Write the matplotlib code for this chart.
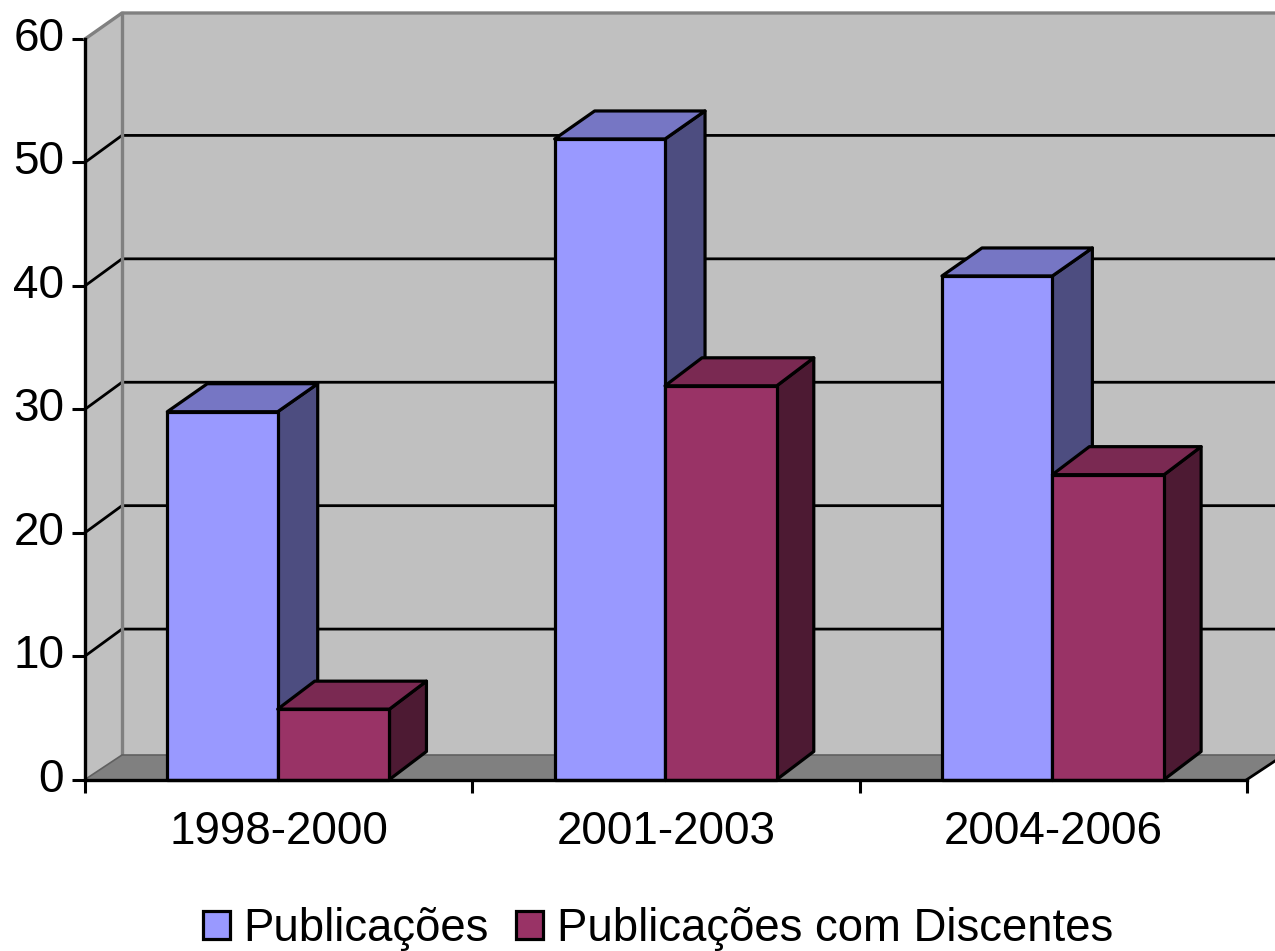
import matplotlib
matplotlib.use('Agg')
import matplotlib.pyplot as plt
from matplotlib.patches import Polygon, Patch

plt.rcParams['font.family'] = ['Liberation Sans', 'DejaVu Sans']

categories = ['1998-2000', '2001-2003', '2004-2006']
series_names = ['Publicações', 'Publicações com Discentes']
publicacoes = [29.8, 51.9, 40.8]
discentes = [5.7, 31.9, 24.7]
yticks = [0, 10, 20, 30, 40, 50, 60]

W, H = 1275, 951
X0, X1, Y0, Y1 = 85, 1247, 779.5, 39

fig = plt.figure(figsize=(W / 100, H / 100), dpi=100)
ax = fig.add_axes([X0 / W, 1 - Y0 / H, (X1 - X0) / W, (Y0 - Y1) / H])
ax.set_xlim(0, 3)
ax.set_ylim(0, 60)
ax.patch.set_visible(False)

# depth of the fake 3d, pixels to data units
px_x = 3 / (X1 - X0)
px_y = 60 / (Y0 - Y1)
wall_dx = 37 * px_x
floor_dy, grid_dy, top_dy = 24.5 * px_y, 27 * px_y, 26 * px_y
bar_dy = 28 * px_y
bar_start = 0.2125


def poly(pts, fc, ec='none', lw=0, z=1):
    ax.add_patch(Polygon(pts, closed=True, facecolor=fc, edgecolor=ec, linewidth=lw,
                         joinstyle='round', clip_on=False, zorder=z))


# walls and floor
poly([(0, 0), (wall_dx, floor_dy), (wall_dx, 60 + top_dy), (0, 60)], '#C0C0C0', z=1)
poly([(wall_dx, floor_dy), (3 + wall_dx, floor_dy), (3 + wall_dx, 60 + top_dy), (wall_dx, 60 + top_dy)], '#C0C0C0', z=1)
poly([(0, 0), (3, 0), (3 + wall_dx, floor_dy), (wall_dx, floor_dy)], '#808080', z=1)

# grid
for v in yticks[1:-1]:
    ax.plot([0, wall_dx, 3 + wall_dx], [v, v + grid_dy, v + grid_dy], color='black', lw=2, clip_on=False, zorder=2)
ax.plot([0, wall_dx, 3 + wall_dx], [60, 60 + top_dy, 60 + top_dy], color='#808080', lw=2.4, clip_on=False, zorder=2)
ax.plot([wall_dx, wall_dx], [floor_dy, 60 + top_dy], color='#808080', lw=2.4, clip_on=False, zorder=2)
ax.plot([0, wall_dx, 3 + wall_dx], [0, floor_dy, floor_dy], color='#606060', lw=1.2, clip_on=False, zorder=2)
ax.plot([3, 3 + wall_dx], [0, floor_dy], color='black', lw=2, clip_on=False, zorder=2)


def bar3d(x, h, w, dx, front, top, side, z):
    x2 = x + w
    dx = dx * px_x
    poly([(x2, 0), (x2 + dx, bar_dy), (x2 + dx, h + bar_dy), (x2, h)], side, 'black', 2.3, z)
    poly([(x, h), (x + dx, h + bar_dy), (x2 + dx, h + bar_dy), (x2, h)], top, 'black', 2.3, z)
    poly([(x, 0), (x2, 0), (x2, h), (x, h)], front, 'black', 2.3, z)


for i in range(len(categories)):
    bar3d(i + bar_start, publicacoes[i], 0.285, 40, '#9999FF', '#7676C4', '#4D4D80', 3)
    bar3d(i + bar_start + 0.285, discentes[i], 0.2885, 37, '#993366', '#7A2952', '#4D1A33', 4)

for s in ['top', 'right']:
    ax.spines[s].set_visible(False)
for s in ['left', 'bottom']:
    ax.spines[s].set_linewidth(2.4)
    ax.spines[s].set_zorder(6)

ax.set_yticks(yticks)
ax.set_xticks([0, 1, 2, 3])
ax.set_xticklabels([])
ax.set_xticks([0.5, 1.5, 2.5], minor=True)
ax.set_xticklabels(categories, minor=True)
ax.tick_params(axis='y', length=9.5, width=2.2, pad=5.5, labelsize=33)
ax.tick_params(axis='x', which='major', length=9.5, width=2.2)
ax.tick_params(axis='x', which='minor', length=0, pad=22, labelsize=33)
for label in ax.get_yticklabels():
    label.set_verticalalignment('center')

handles = [Patch(facecolor='#9999FF', edgecolor='black', linewidth=2.3),
           Patch(facecolor='#993366', edgecolor='black', linewidth=2.3)]
fig.legend(handles, series_names, loc='center', bbox_to_anchor=(658 / W, 1 - 929 / H), ncol=2, frameon=False,
           fontsize=32.8, handlelength=0.59, handleheight=0.59, handletextpad=0.3, columnspacing=0.6, borderpad=0)

fig.savefig('out.png', dpi=100)
